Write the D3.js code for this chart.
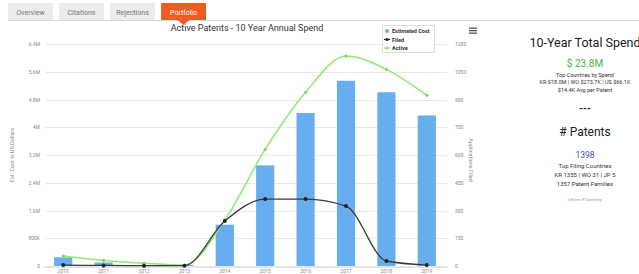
<!DOCTYPE html>
<html>
<head>
<meta charset="utf-8">
<script src="https://cdn.jsdelivr.net/npm/d3@7"></script>
<style>
  body { margin: 0; background: #fff; font-family: Roboto, "Open Sans", sans-serif; }
  svg text { font-family: Roboto, "Open Sans", sans-serif; }
</style>
</head>
<body>
<div id="chart"></div>
<script>
// Chart data
var years = ["2010", "2011", "2012", "2013", "2014", "2015", "2016", "2017", "2018", "2019"];
var estCost = [250000, 100000, 30000, 30000, 1190000, 2900000, 4410000, 5340000, 5010000, 4340000];
var filed = [5, 3, 2, 2, 243, 362, 362, 324, 27, 5];
var active = [54, 30, 15, 5, 249, 630, 939, 1135, 1063, 923];
var costTicks = [0, 800000, 1600000, 2400000, 3200000, 4000000, 4800000, 5600000, 6400000];
var costTickLabels = ["0", "800K", "1.6M", "2.4M", "3.2M", "4M", "4.8M", "5.6M", "6.4M"];
var appTicks = [0, 150, 300, 450, 600, 750, 900, 1050, 1200];
var tabs = ["Overview", "Citations", "Rejections", "Portfolio"];

var svgWidth = 639;
var svgHeight = 274;

var svg = d3.select("#chart")
    .append("svg")
    .attr("width", svgWidth)
    .attr("height", svgHeight);

// Tabs along the top
var tabX = d3.scaleBand().domain(tabs).range([8, 206]).paddingInner(0.12);
svg.append("line")
    .attr("x1", 8).attr("x2", 639).attr("y1", 20.5).attr("y2", 20.5)
    .attr("stroke", "#d8d8d8");
var tabG = svg.selectAll(".tab")
    .data(tabs)
    .enter()
    .append("g");
tabG.append("rect")
    .attr("x", d => tabX(d))
    .attr("y", 3)
    .attr("width", tabX.bandwidth())
    .attr("height", 17)
    .attr("fill", d => d == "Portfolio" ? "#f15a22" : "#ececec");
tabG.filter(d => d == "Portfolio")
    .append("path")
    .attr("d", d => {
        var cx = tabX(d) + tabX.bandwidth() / 2;
        return `M${cx - 6},20 L${cx},25 L${cx + 6},20 Z`;
    })
    .attr("fill", "#f15a22");
tabG.append("text")
    .attr("x", d => tabX(d) + tabX.bandwidth() / 2)
    .attr("y", 14.5)
    .attr("text-anchor", "middle")
    .attr("font-size", "7px")
    .attr("fill", d => d == "Portfolio" ? "#fff" : "#777")
    .text(d => d);

// Scales
var xScale = d3.scaleBand()
    .domain(years)
    .range([43, 447])
    .paddingInner(0.55)
    .paddingOuter(0.275);
var yLeft = d3.scaleLinear().domain([0, 6400000]).range([266, 44]);
var yRight = d3.scaleLinear().domain([0, 1200]).range([266, 44]);

// Gridlines
svg.selectAll(".grid")
    .data(costTicks)
    .enter()
    .append("line")
    .attr("x1", 45).attr("x2", 447)
    .attr("y1", d => Math.round(yLeft(d)) + 0.5)
    .attr("y2", d => Math.round(yLeft(d)) + 0.5)
    .attr("stroke", "#e8e8e8");

// Left axis
var leftAxis = d3.axisLeft(yLeft)
    .tickValues(costTicks)
    .tickFormat((d, i) => costTickLabels[i])
    .tickSize(0)
    .tickPadding(0);
var leftG = svg.append("g")
    .attr("transform", "translate(40,0)")
    .call(leftAxis);
leftG.select(".domain").remove();
leftG.selectAll("text").attr("font-size", "5px").attr("fill", "#888");

// Right axis
var rightAxis = d3.axisRight(yRight)
    .tickValues(appTicks)
    .tickFormat(d3.format("d"))
    .tickSize(0)
    .tickPadding(0);
var rightG = svg.append("g")
    .attr("transform", "translate(455,0)")
    .call(rightAxis);
rightG.select(".domain").remove();
rightG.selectAll("text").attr("font-size", "5px").attr("fill", "#888");

// Bottom axis
var bottomAxis = d3.axisBottom(xScale).tickSize(0).tickPadding(0);
var bottomG = svg.append("g")
    .attr("transform", "translate(0,267)")
    .call(bottomAxis);
bottomG.select(".domain").attr("stroke", "#e0e0e0");
bottomG.selectAll("text").attr("font-size", "5px").attr("fill", "#888").attr("dy", "6");

// Axis titles
svg.append("text")
    .attr("transform", "translate(14,155) rotate(-90)")
    .attr("text-anchor", "middle")
    .attr("font-size", "5.5px")
    .attr("fill", "#888")
    .text("Est. Cost in US Dollars");
svg.append("text")
    .attr("transform", "translate(469,160) rotate(90)")
    .attr("text-anchor", "middle")
    .attr("font-size", "5.5px")
    .attr("fill", "#888")
    .text("Applications Filed");

// Bars
svg.selectAll(".bar")
    .data(estCost)
    .enter()
    .append("rect")
    .attr("x", (d, i) => xScale(years[i]))
    .attr("y", d => yLeft(d))
    .attr("width", xScale.bandwidth())
    .attr("height", d => yLeft(0) - yLeft(d))
    .attr("fill", "#68adee");

// Lines
var cx = (d, i) => xScale(years[i]) + xScale.bandwidth() / 2;
var line = d3.line()
    .x(cx)
    .y(d => yRight(d))
    .curve(d3.curveMonotoneX);

svg.append("path")
    .datum(active)
    .attr("d", line)
    .attr("fill", "none")
    .attr("stroke", "#8ee872")
    .attr("stroke-width", 1.5);
svg.selectAll(".activeDot")
    .data(active)
    .enter()
    .append("circle")
    .attr("cx", cx)
    .attr("cy", d => yRight(d))
    .attr("r", 1.6)
    .attr("fill", "#7bd85e");

svg.append("path")
    .datum(filed)
    .attr("d", line)
    .attr("fill", "none")
    .attr("stroke", "#3a3a3a")
    .attr("stroke-width", 1.3);
svg.selectAll(".filedDot")
    .data(filed)
    .enter()
    .append("circle")
    .attr("cx", cx)
    .attr("cy", d => yRight(d))
    .attr("r", 2)
    .attr("fill", "#222");

// Title
svg.append("text")
    .attr("x", 247)
    .attr("y", 31)
    .attr("text-anchor", "middle")
    .attr("font-size", "9px")
    .attr("fill", "#333")
    .text("Active Patents - 10 Year Annual Spend");

// Legend
var legend = svg.append("g").attr("transform", "translate(382,25)");
legend.append("rect")
    .attr("x", 0.5).attr("y", 0.5)
    .attr("width", 52).attr("height", 27)
    .attr("fill", "#fff")
    .attr("stroke", "#ddd");
var legendItems = ["Estimated Cost", "Filed", "Active"];
var legendColors = ["#68adee", "#222", "#8ee872"];
legendItems.forEach(function(name, i) {
    var y = 6 + i * 8.5;
    if (i == 0) {
        legend.append("circle").attr("cx", 5).attr("cy", y).attr("r", 2).attr("fill", legendColors[i]);
    } else {
        legend.append("line").attr("x1", 2).attr("x2", 8).attr("y1", y).attr("y2", y)
            .attr("stroke", legendColors[i]).attr("stroke-width", 1.2);
        legend.append("circle").attr("cx", 5).attr("cy", y).attr("r", 1.5).attr("fill", legendColors[i]);
    }
    legend.append("text")
        .attr("x", 10).attr("y", y + 2)
        .attr("font-size", "5.5px")
        .attr("font-weight", "bold")
        .attr("fill", "#333")
        .text(name);
});

// Menu icon
[0, 2.5, 5].forEach(function(dy) {
    svg.append("rect")
        .attr("x", 469).attr("y", 27.5 + dy)
        .attr("width", 8).attr("height", 1.3)
        .attr("fill", "#555");
});

// Side panel
var panel = [
    { text: "10-Year Total Spend", y: 47, size: 12.5, color: "#222", weight: "normal" },
    { text: "$ 23.8M", y: 67, size: 10, color: "#4caf50", weight: "normal" },
    { text: "Top Countries by Spend", y: 77, size: 5.5, color: "#333", weight: "normal" },
    { text: "KR $18.0M | WO $273.7K | US $66.1K", y: 84, size: 5.5, color: "#333", weight: "normal" },
    { text: "$14.4K Avg per Patent", y: 91.5, size: 5.5, color: "#333", weight: "normal" },
    { text: "---", y: 112, size: 10, color: "#222", weight: "bold" },
    { text: "# Patents", y: 136, size: 12, color: "#222", weight: "normal" },
    { text: "1398", y: 158, size: 8.5, color: "#3f51b5", weight: "normal" },
    { text: "Top Filing Countries", y: 168, size: 6, color: "#333", weight: "normal" },
    { text: "KR 1355 | WO 31 | JP 5", y: 177, size: 6, color: "#333", weight: "normal" },
    { text: "1357 Patent Families", y: 185.5, size: 6, color: "#333", weight: "normal" },
    { text: "Lifetime IP Ownership", y: 201, size: 3.5, color: "#999", weight: "normal" }
];
svg.selectAll(".panel")
    .data(panel)
    .enter()
    .append("text")
    .attr("x", 585)
    .attr("y", d => d.y)
    .attr("text-anchor", "middle")
    .attr("font-size", d => d.size + "px")
    .attr("font-weight", d => d.weight)
    .attr("fill", d => d.color)
    .text(d => d.text);
</script>
</body>
</html>
